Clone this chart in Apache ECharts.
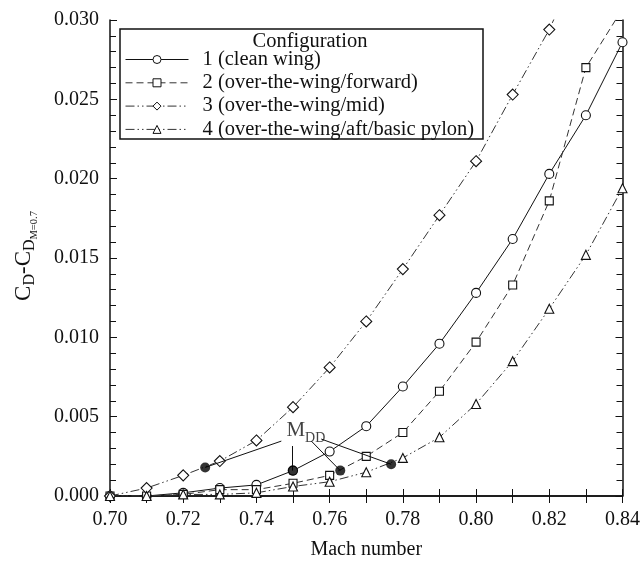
<!DOCTYPE html>
<html>
<head>
<meta charset="utf-8">
<script src="https://cdn.jsdelivr.net/npm/echarts@6/dist/echarts.min.js"></script>
<style>
html,body{margin:0;padding:0;background:#fff;}
#main{width:643px;height:565px;}
</style>
</head>
<body>
<div id="main"></div>
<script>
// ---- data ----
const mach = [0.70,0.71,0.72,0.73,0.74,0.75,0.76,0.77,0.78,0.79,0.80,0.81,0.82,0.83,0.84];
const cfg1 = [0,0.0000,0.0002,0.0005,0.0007,0.0016,0.0028,0.0044,0.0069,0.0096,0.0128,0.0162,0.0203,0.0240,0.0286];
const cfg2 = [0,0.0000,0.0001,0.0004,0.0004,0.0008,0.0013,0.0025,0.0040,0.0066,0.0097,0.0133,0.0186,0.0270,0.0307];
const cfg3 = [0,0.0005,0.0013,0.0022,0.0035,0.0056,0.0081,0.0110,0.0143,0.0177,0.0211,0.0253,0.0294,0.0345];
const cfg4 = [0,0.0000,0.0001,0.0001,0.0002,0.0006,0.0009,0.0015,0.0024,0.0037,0.0058,0.0085,0.0118,0.0152,0.0194];
const seriesNames = ['1 (clean wing)','2 (over-the-wing/forward)','3 (over-the-wing/mid)','4 (over-the-wing/aft/basic pylon)'];
const mddPoints = [[0.7260,0.0018],[0.7499,0.0016],[0.7629,0.0016],[0.7768,0.0020]];
const mddAnchors = [[0.7468,0.00346],[0.7498,0.00315],[0.7550,0.00346],[0.7577,0.00359]];
const mddLabelPos = [0.7535,0.0041];
const xTickLabels = ['0.70','0.72','0.74','0.76','0.78','0.80','0.82','0.84'];
const yTickLabels = ['0.000','0.005','0.010','0.015','0.020','0.025','0.030'];

const FONT = 'Liberation Serif';
const INK = '#111';
const pair = arr => arr.map((v,i)=>[mach[i], v]);

const chart = echarts.init(document.getElementById('main'), null, {renderer:'canvas'});

function lineSeries(name, data, symbol, size, dash, col){
  return {
    name, type:'line', data: pair(data), symbol, symbolSize:size,
    showSymbol:true, clip:true,
    lineStyle:{color:col, width:1, type:dash},
    itemStyle:{color:'#fff', borderColor:INK, borderWidth:1.1},
    emphasis:{disabled:true}, animation:false, z:3
  };
}

const axisCommon = {
  type:'value',
  axisLine:{show:true, lineStyle:{color:INK, width:1.5}},
  splitLine:{show:false},
  axisTick:{show:true, inside:true, length:7, lineStyle:{color:INK, width:1}},
  minorTick:{show:true, length:6, lineStyle:{color:INK, width:1}},
  minorSplitLine:{show:false}
};

const option = {
  backgroundColor:'#fff',
  animation:false,
  grid:{left:110, right:17, top:20, bottom:68},
  xAxis:[
    Object.assign({}, axisCommon, {
      position:'bottom', min:0.70, max:0.84, interval:0.02,
      minorTick:{show:true, splitNumber:2, length:7, lineStyle:{color:INK}},
      axisLabel:{show:true, fontFamily:FONT, fontSize:20, color:INK, margin:14,
        formatter: v => { const s=v.toFixed(2); return xTickLabels.includes(s)?s:''; }},
      name:'Mach number', nameLocation:'middle', nameGap:44,
      nameTextStyle:{fontFamily:FONT, fontSize:20, color:INK}
    }),
    Object.assign({}, axisCommon, {
      position:'top', min:0.70, max:0.84, interval:0.02,
      minorTick:{show:true, splitNumber:2, length:7, lineStyle:{color:INK}},
      axisLabel:{show:false}
    })
  ],
  yAxis:[
    Object.assign({}, axisCommon, {
      position:'left', min:0, max:0.03, interval:0.005,
      minorTick:{show:true, splitNumber:5, length:6, lineStyle:{color:INK}},
      axisLabel:{show:true, fontFamily:FONT, fontSize:20, color:INK, margin:11,
        formatter: v => { const s=v.toFixed(3); return yTickLabels.includes(s)?s:''; }}
    }),
    Object.assign({}, axisCommon, {
      position:'right', min:0, max:0.03, interval:0.005,
      minorTick:{show:true, splitNumber:5, length:6, lineStyle:{color:INK}},
      axisLabel:{show:false}
    })
  ],
  legend:{
    orient:'vertical', left:125, top:49, padding:0, itemWidth:63, itemHeight:10, itemGap:2.3,
    selectedMode:false,
    itemStyle:{borderWidth:1},
    lineStyle:{width:1},
    textStyle:{fontFamily:FONT, fontSize:20.5, color:INK, padding:[0,0,0,9]},
    data: seriesNames, z:20
  },
  graphic:[
    {type:'rect', z:10, shape:{x:120, y:29, width:363, height:110},
      style:{fill:'#fff', stroke:INK, lineWidth:1.5}},
    {type:'text', z:11, x:310, y:42,
      style:{text:'Configuration', font:'20.5px "Liberation Serif"', fill:INK, textAlign:'center', textVerticalAlign:'middle'}},
    {type:'text', z:11, x:24, y:256, rotation:Math.PI/2,
      style:{
        text:'{c|C}{d|D}{c|-C}{d|D}{m|M=0.7}',
        textAlign:'center', textVerticalAlign:'middle', fill:INK,
        rich:{
          c:{fontFamily:FONT, fontSize:23, lineHeight:24, verticalAlign:'top', fill:INK},
          d:{fontFamily:FONT, fontSize:16, lineHeight:16, verticalAlign:'top', padding:[10,0,0,0], fill:INK},
          m:{fontFamily:FONT, fontSize:10.5, lineHeight:11, verticalAlign:'top', padding:[17,0,0,0], fill:INK}
        }
      }}
  ],
  series:[
    lineSeries(seriesNames[0], cfg1, 'circle', 9, 'solid', INK),
    lineSeries(seriesNames[1], cfg2, 'rect', 8, [7,4], '#333'),
    lineSeries(seriesNames[2], cfg3, 'diamond', 11, [9,3,1.5,3,1.5,3], '#333'),
    lineSeries(seriesNames[3], cfg4, 'triangle', 9, [9,3,1.5,3,1.5,3], '#333'),
    {
      name:'mdd-leaders', type:'lines', coordinateSystem:'cartesian2d', polyline:false,
      silent:true, z:4,
      lineStyle:{color:INK, width:1, opacity:1, curveness:0},
      data: mddPoints.map((p,i)=>({coords:[mddAnchors[i], p]}))
    },
    {
      name:'mdd', type:'scatter', data: mddPoints, symbol:'circle', symbolSize:10,
      itemStyle:{color:'#000'}, silent:true, z:5
    },
    {
      name:'mdd-label', type:'scatter', data:[mddLabelPos], symbolSize:0, silent:true, z:6,
      label:{show:true, position:'inside', formatter:'{m|M}{s|DD}',
        rich:{
          m:{fontFamily:FONT, fontSize:21, lineHeight:22, verticalAlign:'top', color:INK},
          s:{fontFamily:FONT, fontSize:14, lineHeight:14, verticalAlign:'top', padding:[11,0,0,0], color:INK}
        }}
    }
  ]
};
chart.setOption(option);
</script>
</body>
</html>
